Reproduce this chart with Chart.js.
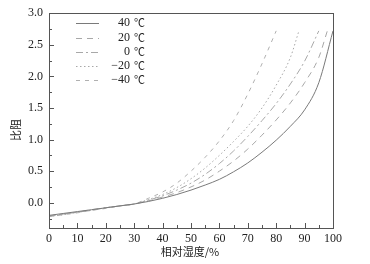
<!DOCTYPE html>
<html>
<head>
<meta charset="utf-8">
<script src="https://cdn.jsdelivr.net/npm/chart.js@4"></script>
<style>
    body { margin: 0; background: #fff; }
    #chart { display: block; }
</style>
</head>
<body>
<canvas id="chart" width="370" height="264"></canvas>
<script>
// Données (humidité relative en %, résistivité relative)
const seriesNames = ['40', '20', '0', '\u221220', '\u221240'];

const x40 = [0, 5, 10, 15, 20, 25, 30, 35, 40, 45, 50, 55, 60, 65, 70, 75, 80, 85, 90, 95, 100];
const y40 = [-0.20, -0.17, -0.14, -0.11, -0.08, -0.05, -0.02, 0.02, 0.07, 0.13, 0.20, 0.28, 0.37, 0.49, 0.63, 0.80, 0.99, 1.21, 1.47, 1.90, 2.72];

const x20 = [0, 5, 10, 15, 20, 25, 30, 35, 40, 45, 50, 55, 60, 65, 70, 75, 80, 85, 90, 95, 98];
const y20 = [-0.21, -0.18, -0.15, -0.11, -0.08, -0.05, -0.02, 0.03, 0.09, 0.16, 0.25, 0.36, 0.50, 0.66, 0.85, 1.07, 1.31, 1.58, 1.90, 2.30, 2.72];

const x0 = [0, 5, 10, 15, 20, 25, 30, 35, 40, 45, 50, 55, 60, 65, 70, 75, 80, 85, 90, 95];
const y0 = [-0.21, -0.18, -0.15, -0.12, -0.08, -0.05, -0.02, 0.04, 0.11, 0.20, 0.31, 0.45, 0.62, 0.82, 1.05, 1.30, 1.57, 1.88, 2.24, 2.72];

const xm20 = [0, 5, 10, 15, 20, 25, 30, 35, 40, 45, 50, 55, 60, 65, 70, 75, 80, 85, 88];
const ym20 = [-0.22, -0.19, -0.15, -0.12, -0.08, -0.05, -0.02, 0.05, 0.13, 0.24, 0.38, 0.55, 0.75, 0.97, 1.21, 1.50, 1.86, 2.30, 2.72];

const xm40 = [0, 5, 10, 15, 20, 25, 30, 35, 40, 45, 50, 55, 60, 65, 70, 75, 80];
const ym40 = [-0.22, -0.19, -0.16, -0.12, -0.09, -0.05, -0.02, 0.07, 0.17, 0.31, 0.50, 0.72, 0.98, 1.30, 1.72, 2.20, 2.72];

const xTicks = [0, 10, 20, 30, 40, 50, 60, 70, 80, 90, 100];
const yTicks = [0, 0.5, 1.0, 1.5, 2.0, 2.5, 3.0];

const serif = "'Liberation Serif', 'Noto Sans CJK SC', serif";
const cjk = "'Noto Sans CJK SC', sans-serif";

function toPoints(xs, ys) {
    return xs.map((x, i) => ({ x: x, y: ys[i] }));
}

const styles = [
    { color: '#7a7a7a', dash: [] },
    { color: '#a8a8a8', dash: [6, 5] },
    { color: '#a8a8a8', dash: [7, 3, 2, 3] },
    { color: '#a8a8a8', dash: [1.5, 2.5] },
    { color: '#b0b0b0', dash: [4, 5] }
];

const allData = [[x40, y40], [x20, y20], [x0, y0], [xm20, ym20], [xm40, ym40]];

const datasets = allData.map((d, i) => ({
    label: seriesNames[i] + ' \u2103',
    data: toPoints(d[0], d[1]),
    borderColor: styles[i].color,
    borderDash: styles[i].dash,
    borderWidth: 1,
    pointRadius: 0,
    cubicInterpolationMode: 'monotone',
    fill: false
}));

// Cadre, graduations internes, titres et légende
const decorPlugin = {
    id: 'decor',
    afterDraw(chart) {
        const ctx = chart.ctx;
        const area = chart.chartArea;
        const xs = chart.scales.x;
        const ys = chart.scales.y;
        ctx.save();
        ctx.strokeStyle = '#555';
        ctx.lineWidth = 1;
        ctx.setLineDash([]);
        ctx.strokeRect(Math.round(area.left) + 0.5, Math.round(area.top) + 0.5,
            Math.round(area.right - area.left), Math.round(area.bottom - area.top));

        ctx.beginPath();
        for (let v = 0; v <= 100; v += 5) {
            const px = Math.round(xs.getPixelForValue(v)) + 0.5;
            const len = v % 10 === 0 ? 5 : 3;
            ctx.moveTo(px, area.bottom);
            ctx.lineTo(px, area.bottom - len);
        }
        for (let v = -0.25; v <= 3.0; v += 0.25) {
            const py = Math.round(ys.getPixelForValue(v)) + 0.5;
            const major = Math.abs(v * 2 - Math.round(v * 2)) < 1e-6;
            ctx.moveTo(area.left, py);
            ctx.lineTo(area.left + (major ? 5 : 3), py);
        }
        ctx.stroke();

        // titres des axes
        ctx.fillStyle = '#222';
        ctx.font = '11px ' + cjk;
        ctx.textAlign = 'center';
        ctx.textBaseline = 'middle';
        ctx.fillText('\u76f8\u5bf9\u6e7f\u5ea6/%', 190, 252);
        ctx.save();
        ctx.translate(16, 130);
        ctx.rotate(-Math.PI / 2);
        ctx.fillText('\u6bd4\u963b', 0, 0);
        ctx.restore();

        // légende
        const rows = [23, 38, 52, 66, 80];
        chart.data.datasets.forEach((ds, i) => {
            const y = rows[i] + 0.5;
            ctx.strokeStyle = ds.borderColor;
            ctx.setLineDash(ds.borderDash);
            ctx.beginPath();
            ctx.moveTo(76, y);
            ctx.lineTo(99, y);
            ctx.stroke();
            ctx.setLineDash([]);
            ctx.fillStyle = '#222';
            ctx.font = '12px ' + serif;
            ctx.textAlign = 'right';
            ctx.fillText(seriesNames[i], 130, rows[i]);
            ctx.textAlign = 'left';
            ctx.font = '11px ' + cjk;
            ctx.fillText('\u2103', 134, rows[i]);
        });
        ctx.restore();
    }
};

new Chart(document.getElementById('chart').getContext('2d'), {
    type: 'line',
    data: { datasets: datasets },
    options: {
        responsive: false,
        animation: false,
        layout: { padding: { top: 10, right: 37, bottom: 0, left: 0 } },
        plugins: {
            legend: { display: false },
            tooltip: { enabled: false }
        },
        scales: {
            x: {
                type: 'linear',
                min: 0,
                max: 100,
                afterBuildTicks: scale => { scale.ticks = xTicks.map(v => ({ value: v })); },
                afterFit: scale => { scale.height = 36; },
                grid: { display: false, drawTicks: false },
                border: { display: false },
                ticks: {
                    color: '#222',
                    padding: 4,
                    maxRotation: 0,
                    font: { family: serif, size: 12 }
                }
            },
            y: {
                type: 'linear',
                min: -0.4,
                max: 3.0,
                afterBuildTicks: scale => { scale.ticks = yTicks.map(v => ({ value: v })); },
                afterFit: scale => { scale.width = 49; },
                grid: { display: false, drawTicks: false },
                border: { display: false },
                ticks: {
                    color: '#222',
                    padding: 6,
                    font: { family: serif, size: 12 },
                    callback: v => v.toFixed(1)
                }
            }
        }
    },
    plugins: [decorPlugin]
});
</script>
</body>
</html>
